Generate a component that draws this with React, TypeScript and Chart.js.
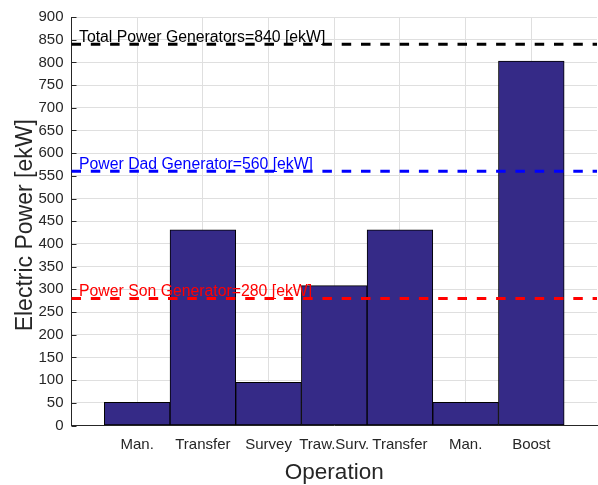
import React, { useEffect, useRef } from 'react';
import { Chart, registerables } from 'chart.js';

Chart.register(...registerables);

const categories = ['Man.', 'Transfer', 'Survey', 'Traw.Surv.', 'Transfer', 'Man.', 'Boost'];
const powerValues = [51, 431, 95, 308, 431, 51, 803];
const yMin = 0;
const yMax = 900;
const yStep = 50;
const limitNames = ['Total Power Generators', 'Power Dad Generator', 'Power Son Generator'];
const limitValues = [840, 560, 280];
const limitColors = ['#000000', '#0000ff', '#ff0000'];

const FONT = '"Liberation Sans", Arial, Helvetica, sans-serif';

const overlay = {
  id: 'overlay',
  afterDatasetsDraw(chart: any) {
    const { ctx, chartArea, scales } = chart;
    const x = scales.x;
    const y = scales.y;
    ctx.save();
    // inward tick marks on the y axis
    ctx.strokeStyle = '#262626';
    ctx.lineWidth = 1;
    y.ticks.forEach((t: any) => {
      const py = Math.round(y.getPixelForValue(t.value)) + 0.5;
      ctx.beginPath();
      ctx.moveTo(chartArea.left, py);
      ctx.lineTo(chartArea.left + 5, py);
      ctx.stroke();
    });
    // labels of the reference lines
    ctx.font = `15.8px ${FONT}`;
    ctx.textAlign = 'left';
    ctx.textBaseline = 'alphabetic';
    limitValues.forEach((v, i) => {
      ctx.fillStyle = limitColors[i];
      ctx.fillText(`${limitNames[i]}=${v} [ekW]`, x.getPixelForValue(0) + 7.5, y.getPixelForValue(v) - 2.5);
    });
    // axis titles
    ctx.fillStyle = '#262626';
    ctx.font = `22.5px ${FONT}`;
    ctx.textAlign = 'center';
    ctx.fillText('Operation', (chartArea.left + chartArea.right) / 2, 479);
    ctx.save();
    ctx.font = `23px ${FONT}`;
    ctx.translate(31.5, (chartArea.top + chartArea.bottom) / 2 + 4);
    ctx.rotate(-Math.PI / 2);
    ctx.fillText('Electric Power [ekW]', 0, 0);
    ctx.restore();
    ctx.restore();
  },
};

export default function App() {
  const canvasRef = useRef<HTMLCanvasElement | null>(null);

  useEffect(() => {
    document.body.style.margin = '0';
    const canvas = canvasRef.current;
    if (!canvas) return;
    const labels = ['', ...categories, ''];
    const barData = [null, ...powerValues, null];
    const lineSets = limitValues.map((v, i) => ({
      type: 'line' as const,
      label: limitNames[i],
      data: labels.map(() => v),
      borderColor: limitColors[i],
      borderWidth: 3,
      borderDash: [9.5, 9.8],
      borderCapStyle: 'butt' as const,
      pointRadius: 0,
      fill: false,
      order: 0,
    }));
    const chart = new Chart(canvas, {
      type: 'bar',
      data: {
        labels,
        datasets: [
          ...lineSets,
          {
            type: 'bar' as const,
            label: 'Electric Power',
            data: barData,
            backgroundColor: '#352A87',
            borderColor: '#000000',
            borderWidth: 1,
            borderSkipped: false,
            barPercentage: 1,
            categoryPercentage: 1,
            order: 1,
          },
        ] as any,
      },
      options: {
        responsive: false,
        animation: false,
        layout: { padding: { top: 13.5, right: 1, left: 0, bottom: 0 } },
        plugins: { legend: { display: false }, tooltip: { enabled: false } },
        scales: {
          x: {
            type: 'category',
            offset: false,
            grid: {
              color: (c: any) => (c.index === labels.length - 1 ? 'rgba(0,0,0,0)' : '#dfdfdf'),
              drawTicks: true,
              tickLength: 10,
              tickColor: 'rgba(0,0,0,0)',
              offset: false,
            },
            border: { color: '#262626', width: 1 },
            ticks: {
              autoSkip: false,
              maxRotation: 0,
              padding: 0,
              color: '#262626',
              font: { family: FONT, size: 15 },
            },
            afterFit: (s: any) => { s.height = 59.5; },
          },
          y: {
            min: yMin,
            max: yMax,
            grid: { color: '#dfdfdf', drawTicks: false },
            border: { color: '#262626', width: 1 },
            ticks: {
              stepSize: yStep,
              padding: 8,
              color: '#262626',
              font: { family: FONT, size: 15 },
            },
            afterFit: (s: any) => { s.width = 71.5; },
          },
        },
      },
      plugins: [overlay],
    });
    return () => chart.destroy();
  }, []);

  return (
    <div style={{ width: 598, height: 485 }}>
      <canvas ref={canvasRef} width={598} height={485} style={{ display: 'block' }} />
    </div>
  );
}
